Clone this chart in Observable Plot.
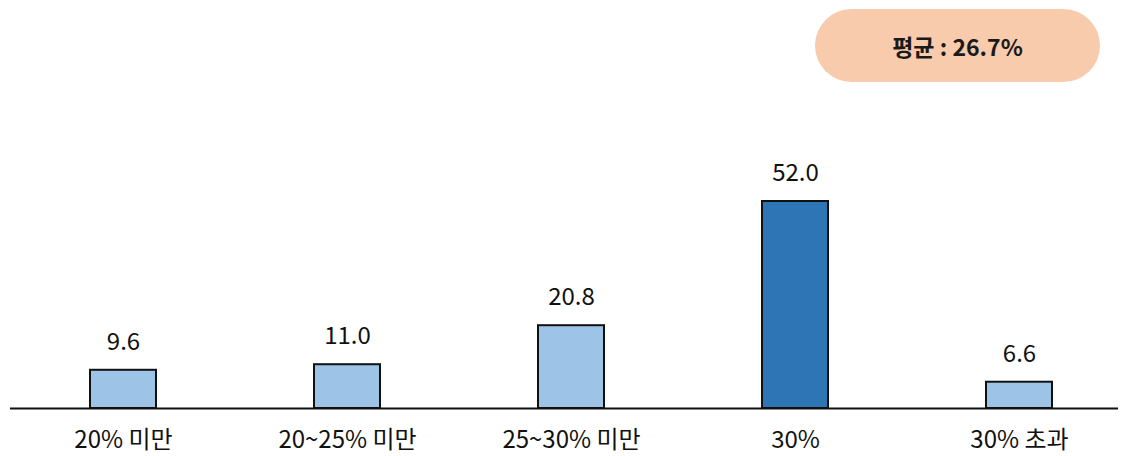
<!DOCTYPE html>
<html>
<head>
<meta charset="utf-8">
<script src="https://cdn.jsdelivr.net/npm/d3@7"></script>
<script src="https://cdn.jsdelivr.net/npm/@observablehq/plot@0.6"></script>
<style>
  html, body { margin: 0; padding: 0; background: #fff; }
  #wrap { position: relative; width: 1128px; height: 456px; }
  #avg {
    position: absolute; left: 815px; top: 9px; width: 285px; height: 73px;
    border-radius: 37px; background: #F8CBAD;
    display: flex; align-items: center; justify-content: center;
    font-family: "Noto Sans CJK KR", sans-serif; font-size: 23px; font-weight: bold; color: #1a1a1a;
  }
</style>
</head>
<body>
<div id="wrap"><div id="avg"></div></div>
<script>
const categories = ["20% 미만", "20~25% 미만", "25~30% 미만", "30%", "30% 초과"];
const values = [9.6, 11.0, 20.8, 52.0, 6.6];
const highlight = [false, false, false, true, false];
const averageLabel = "평균 : 26.7%";

const data = categories.map((c, i) => ({ cat: c, value: values[i], hi: highlight[i] }));
const font = "'Noto Sans CJK KR', sans-serif";

const chart = Plot.plot({
  width: 1128,
  height: 456,
  marginLeft: 10,
  marginRight: 10,
  marginTop: 0,
  marginBottom: 48,
  style: { fontFamily: font, background: "transparent", color: "#111" },
  x: { domain: categories, range: [11, 1132], paddingInner: 0.705, paddingOuter: 0.3525, label: null },
  y: { domain: [0, 52], range: [408, 201], axis: null },
  marks: [
    Plot.barY(data, { x: "cat", y: "value", fill: d => d.hi ? "#2E75B6" : "#9DC3E6", stroke: "#111", strokeWidth: 2 }),
    Plot.text(data, { x: "cat", y: "value", text: d => d.value.toFixed(1), dy: -28, fontSize: 24, fill: "#111" }),
    Plot.ruleY([0], { stroke: "#111", strokeWidth: 2 }),
    Plot.axisX({ tickSize: 0, tickPadding: 22, fontSize: 24, label: null, fill: "#111" })
  ]
});
document.getElementById("wrap").prepend(chart);
chart.style.position = "absolute";
chart.style.left = "0";
chart.style.top = "0";
document.getElementById("avg").textContent = averageLabel;
</script>
</body>
</html>
